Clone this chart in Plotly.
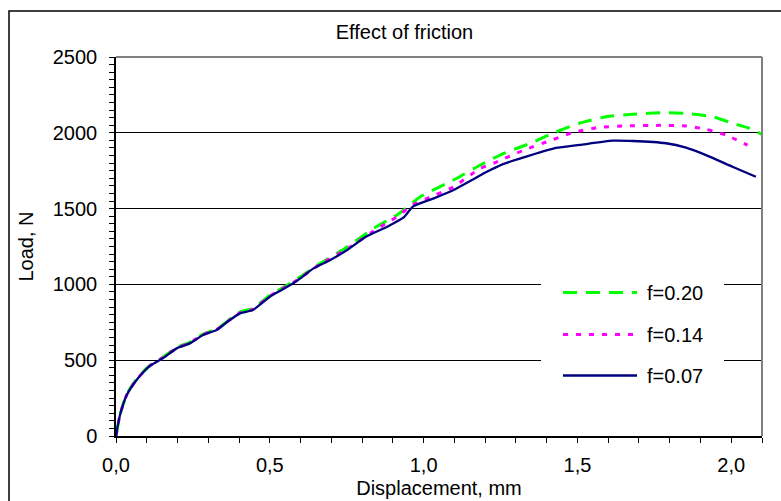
import plotly.graph_objects as go

# f = 0.07 (navy, solid)
x_007 = [0, 0.013, 0.035, 0.067, 0.11, 0.153, 0.197, 0.24, 0.283, 0.327, 0.36, 0.403, 0.445, 0.5, 0.54,
         0.576, 0.598, 0.641, 0.695, 0.75, 0.815, 0.88, 0.934, 0.966, 1.031, 1.096, 1.15, 1.204, 1.26,
         1.313, 1.421, 1.508, 1.615, 1.68, 1.788, 1.853, 1.918, 2.004, 2.08]
y_007 = [0, 138, 270, 369, 462, 514, 578, 611, 666, 699, 750, 809, 831, 919, 965,
         1007, 1038, 1104, 1159, 1225, 1317, 1379, 1440, 1515, 1566, 1621, 1680, 1741, 1795,
         1830, 1896, 1920, 1948, 1946, 1931, 1902, 1853, 1776, 1710]

# f = 0.14 (magenta, dotted)
x_014 = [0, 0.013, 0.035, 0.067, 0.11, 0.153, 0.197, 0.24, 0.283, 0.327, 0.403, 0.445, 0.5, 0.576,
         0.663, 0.76, 0.836, 0.912, 0.965, 1.01, 1.096, 1.183, 1.237, 1.323, 1.421, 1.485, 1.571,
         1.658, 1.766, 1.853, 1.918, 1.983, 2.053]
y_014 = [0, 139, 272, 372, 463, 517, 580, 614, 669, 702, 813, 835, 923, 1012,
         1132, 1245, 1350, 1445, 1525, 1566, 1642, 1764, 1807, 1884, 1955, 2002, 2036,
         2045, 2049, 2045, 2023, 1985, 1919]

# f = 0.20 (green, dashed)
x_020 = [0, 0.013, 0.035, 0.067, 0.11, 0.153, 0.197, 0.24, 0.283, 0.327, 0.403, 0.445, 0.5, 0.576,
         0.663, 0.76, 0.836, 0.912, 0.945, 0.988, 1.096, 1.183, 1.259, 1.345, 1.42, 1.506, 1.593,
         1.68, 1.788, 1.853, 1.94, 2.004, 2.058, 2.1]
y_020 = [0, 140, 275, 375, 465, 520, 583, 618, 672, 706, 818, 840, 928, 1018,
         1137, 1258, 1368, 1456, 1506, 1577, 1687, 1786, 1863, 1929, 1997, 2063, 2106,
         2122, 2133, 2128, 2106, 2063, 2030, 1990]

labels = ["f=0.20", "f=0.14", "f=0.07"]
colors = ["#00FF00", "#FF00FF", "#000080"]
dashes = ["14px,9px", "5px,8px", "solid"]
widths = [3, 3, 2.3]

FONT = "Liberation Sans, Arial, sans-serif"

fig = go.Figure()
for xs, ys, lab, c, d, w in zip([x_020, x_014, x_007], [y_020, y_014, y_007], labels, colors, dashes, widths):
    fig.add_trace(go.Scatter(x=xs, y=ys, mode="lines", name=lab,
                             line=dict(color=c, dash=d, width=w, shape="spline", smoothing=0.6),
                             showlegend=False))

W, H = 781, 501
L, R, T, B = 116, 19, 57, 65
pw, ph = W - L - R, H - T - B

def px(xp):
    return (xp - L) / pw

def py(yp):
    return (H - B - yp) / ph

shapes = []
# outer chart border (left/top visible)
shapes.append(dict(type="rect", xref="paper", yref="paper", x0=px(9), x1=px(800), y0=py(520), y1=py(11),
                   line=dict(color="#000000", width=1.5), fillcolor="rgba(0,0,0,0)", layer="below"))
# top & right gray plot border
shapes.append(dict(type="line", xref="paper", yref="paper", x0=0, x1=1, y0=1, y1=1,
                   line=dict(color="#808080", width=2)))
shapes.append(dict(type="line", xref="paper", yref="paper", x0=1, x1=1, y0=0, y1=1,
                   line=dict(color="#808080", width=2)))
# legend background
shapes.append(dict(type="rect", xref="paper", yref="paper", x0=px(541), x1=px(724), y0=py(396), y1=py(262),
                   line=dict(width=0), fillcolor="white", layer="above"))
leg_y = [292.5, 334.5, 375.5]
annotations = []
for lab, c, d, w, yy in zip(labels, colors, dashes, widths, leg_y):
    shapes.append(dict(type="line", xref="paper", yref="paper", x0=px(563), x1=px(637), y0=py(yy), y1=py(yy),
                       line=dict(color=c, dash=d, width=w), layer="above"))
    annotations.append(dict(xref="paper", yref="paper", x=px(645), y=py(yy), text=lab, showarrow=False,
                            xanchor="left", yanchor="middle", font=dict(family=FONT, size=20, color="black")))

fig.update_layout(
    width=W, height=H,
    margin=dict(l=L, r=R, t=T, b=B, pad=0, autoexpand=False),
    paper_bgcolor="white", plot_bgcolor="white",
    separators=",.",
    font=dict(family=FONT, size=20, color="black"),
    title=dict(text="Effect of friction", x=404.5 / W, xref="container", xanchor="center",
               y=1 - 32 / H, yref="container", yanchor="middle",
               font=dict(family=FONT, size=20, color="black")),
    shapes=shapes, annotations=annotations,
    xaxis=dict(range=[0, 2.1], dtick=0.5, tick0=0, tickformat=".1f", automargin=False,
               showline=True, linecolor="black", linewidth=1.5,
               ticks="outside", ticklen=5, tickcolor="black", tickwidth=1,
               minor=dict(dtick=0.1, ticks="outside", ticklen=5, tickcolor="black", showgrid=False),
               showgrid=False, zeroline=False,
               tickfont=dict(family=FONT, size=20), ticklabelstandoff=5,
               title=dict(text="Displacement, mm", font=dict(family=FONT, size=20), standoff=6)),
    yaxis=dict(range=[0, 2500], dtick=500, tick0=0, tickformat="d", automargin=False,
               showline=True, linecolor="black", linewidth=1.5,
               ticks="outside", ticklen=5, tickcolor="black", tickwidth=1,
               minor=dict(dtick=50, ticks="outside", ticklen=5, tickcolor="black", showgrid=False),
               showgrid=True, gridcolor="black", gridwidth=1, zeroline=False,
               tickfont=dict(family=FONT, size=20), ticklabelstandoff=8,
               title=dict(text="Load, N", font=dict(family=FONT, size=20), standoff=14)),
)

fig.write_html("out.html")
